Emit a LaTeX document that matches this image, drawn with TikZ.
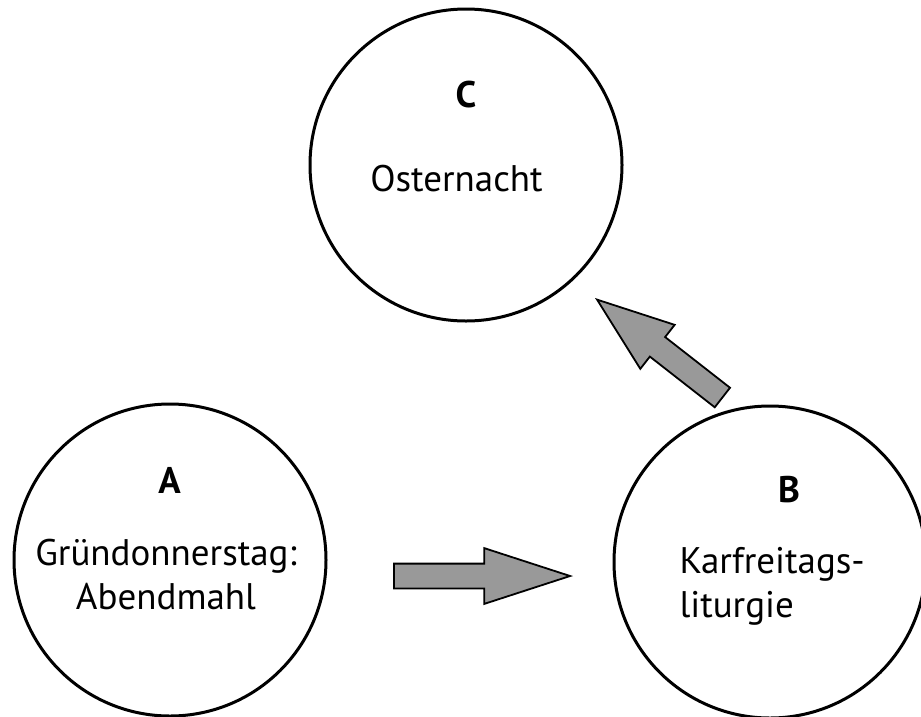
\documentclass[tikz,border=0pt]{standalone}
\usepackage{fontspec}
\setmainfont{PT Sans}
\usetikzlibrary{shapes.arrows}

\definecolor{arrowgray}{RGB}{153,153,153}

\tikzset{
	stage/.style={circle, draw, line width=3pt, minimum size=312pt, inner sep=0pt},
	letter/.style={anchor=base, font=\bfseries\fontsize{37}{44}\selectfont},
	label/.style={anchor=base, font=\fontsize{37}{44}\selectfont},
	bigarrow/.style={single arrow, draw, fill=arrowgray, line width=1.8pt, inner xsep=0pt, inner ysep=11.5pt,
		minimum width=54pt, single arrow head extend=15.5pt, anchor=tip}
}

\begin{document}
\begin{tikzpicture}[x=1pt, y=-1pt]
		\useasboundingbox (0,0) rectangle (921,716);
		
		\foreach \n/\x/\y in {A/170/560, B/770/562, C/466/165}
		{
			\node[stage] (\n) at (\x, \y) {};
		}
		
		\node[letter] (A-letter) at (169.5, 493) {A};
		\node[label, align=center] (A-text) at (166, 609) {Gründonnerstag:\\Abendmahl};
		
		\node[letter] (B-letter) at (789, 502) {B};
		\node[label, align=left, anchor=base west] (B-text) at (676, 617) {Karfreitags-\\liturgie};
		
		\node[letter] (C-letter) at (466, 107) {C};
		\node[label] (C-text) at (456.5, 191) {Osternacht};
		
		% block arrows A -> B -> C
		\node[bigarrow, minimum height=176pt, single arrow tip angle=36] (AB) at (573, 576) {};
		\node[bigarrow, minimum height=159pt, single arrow tip angle=40, rotate=142] (BC) at (595, 298) {};
	\end{tikzpicture}
\end{document}
